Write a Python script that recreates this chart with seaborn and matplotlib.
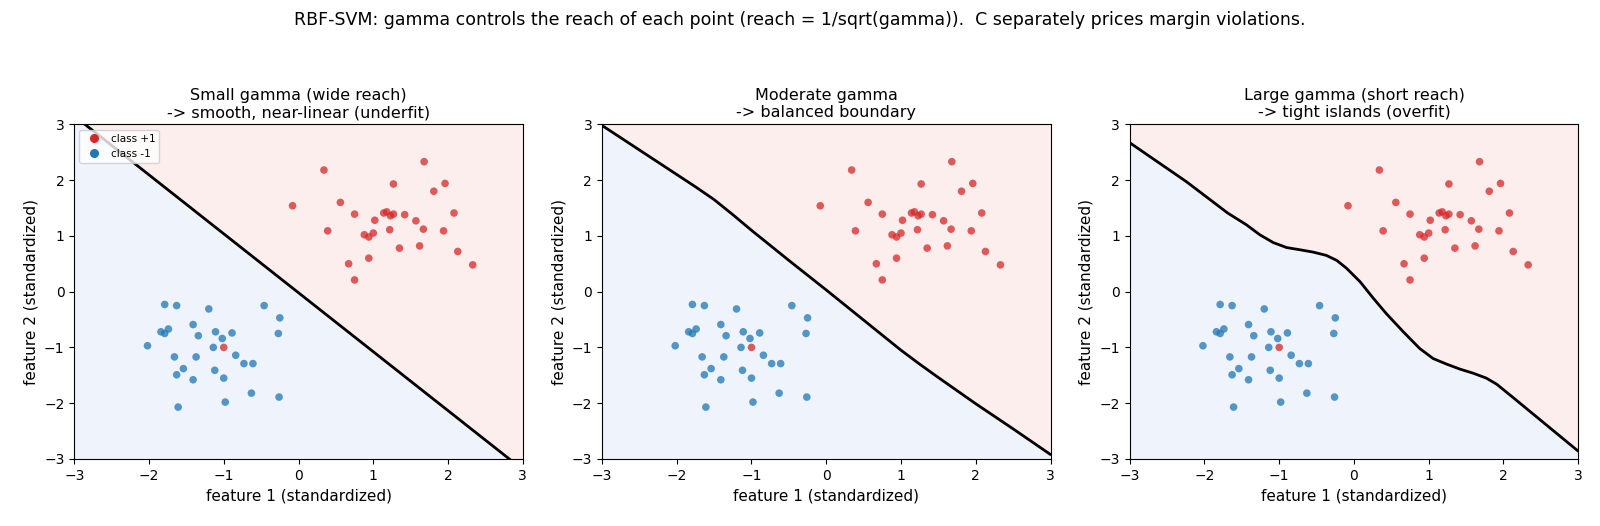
import numpy as np
import pandas as pd
import matplotlib
matplotlib.use("Agg")
import matplotlib.pyplot as plt
import seaborn as sns
from matplotlib.lines import Line2D

# ---- data ----
pos_x = [1.68, 0.34, 1.27, 1.96, 1.81, -0.08, 0.56, 0.75, 1.14, 1.18, 1.23, 1.27,
         1.42, 2.08, 1.02, 1.57, 0.39, 1.22, 1.67, 1.94, 0.88, 0.94, 1.00, 1.35,
         1.62, 2.13, 0.67, 0.94, 2.33, 0.75, -1.00]
pos_y = [2.33, 2.18, 1.93, 1.94, 1.80, 1.54, 1.60, 1.39, 1.41, 1.43, 1.36, 1.39,
         1.38, 1.41, 1.28, 1.27, 1.09, 1.11, 1.12, 1.09, 1.02, 0.98, 1.05, 0.78,
         0.82, 0.72, 0.50, 0.60, 0.48, 0.21, -1.00]
neg_x = [-1.79, -1.63, -1.20, -0.46, -0.25, -1.41, -1.84, -1.79, -1.74, -1.11,
         -0.89, -0.27, -1.34, -1.02, -2.02, -1.14, -1.66, -1.37, -0.84, -0.73,
         -0.61, -1.54, -1.12, -1.63, -1.41, -1.00, -0.63, -0.26, -0.98, -1.61]
neg_y = [-0.23, -0.25, -0.31, -0.25, -0.47, -0.59, -0.72, -0.75, -0.67, -0.72,
         -0.74, -0.75, -0.79, -0.84, -0.97, -1.00, -1.17, -1.17, -1.14, -1.29,
         -1.29, -1.38, -1.41, -1.49, -1.58, -1.55, -1.82, -1.89, -1.98, -2.07]

titles = ["Small gamma (wide reach)\n-> smooth, near-linear (underfit)",
          "Moderate gamma\n-> balanced boundary",
          "Large gamma (short reach)\n-> tight islands (overfit)"]

bnd1_x = [-3.0, 3.0]
bnd1_y = [3.15, -3.19]
bnd2_x = [-3.0, -2.5, -2.0, -1.75, -1.5, -1.25, -1.0, -0.5, 0.0, 0.5, 0.75, 1.0,
          1.25, 1.5, 2.0, 2.5, 3.0]
bnd2_y = [2.98, 2.54, 2.10, 1.88, 1.65, 1.38, 1.10, 0.56, 0.03, -0.51, -0.78, -1.05,
          -1.30, -1.54, -2.01, -2.46, -2.92]
bnd3_x = [-3.0, -2.24, -1.69, -1.44, -1.26, -1.08, -0.90, -0.72, -0.55, -0.37, -0.23,
          -0.10, 0.08, 0.26, 0.43, 0.66, 0.88, 1.06, 1.24, 1.42, 1.59, 1.77, 1.91,
          2.13, 3.0]
bnd3_y = [2.67, 1.97, 1.41, 1.20, 1.02, 0.88, 0.79, 0.75, 0.71, 0.65, 0.56,
          0.42, 0.18, -0.12, -0.39, -0.72, -1.02, -1.20, -1.30, -1.39, -1.46, -1.55, -1.66,
          -1.90, -2.86]
boundaries = [(bnd1_x, bnd1_y), (bnd2_x, bnd2_y), (bnd3_x, bnd3_y)]

suptitle = ("RBF-SVM: gamma controls the reach of each point (reach = 1/sqrt(gamma)).  "
            "C separately prices margin violations.")

RED = "#d62728"
BLUE = "#1f77b4"
PINK_BG = "#fdeeee"
BLUE_BG = "#eef3fc"

df = pd.DataFrame({
    "x": neg_x + pos_x,
    "y": neg_y + pos_y,
    "cls": ["class -1"] * len(neg_x) + ["class +1"] * len(pos_x),
})

fig, axes = plt.subplots(1, 3, figsize=(16, 5.26), dpi=100)
fig.subplots_adjust(left=0.0464, right=0.9864, top=0.7637, bottom=0.1274, wspace=0.1765)

for i, (ax, title, (bx, by)) in enumerate(zip(axes, titles, boundaries)):
    bx = np.asarray(bx); by = np.asarray(by)
    ax.fill_between(bx, by, 4, color=PINK_BG, lw=0, zorder=0)
    ax.fill_between(bx, -4, by, color=BLUE_BG, lw=0, zorder=0)
    ax.plot(bx, by, color="black", lw=2, zorder=2,
            solid_joinstyle="round", solid_capstyle="round")
    sns.scatterplot(data=df, x="x", y="y", hue="cls",
                    palette={"class +1": RED, "class -1": BLUE},
                    s=30, alpha=0.75, linewidth=0, legend=False, ax=ax, zorder=3)
    ax.set_xlim(-3, 3)
    ax.set_ylim(-3, 3)
    ax.set_xticks([-3, -2, -1, 0, 1, 2, 3])
    ax.set_yticks([-3, -2, -1, 0, 1, 2, 3])
    ax.tick_params(labelsize=10)
    ax.set_title(title, fontsize=11.5, pad=5)
    ax.set_xlabel("feature 1 (standardized)", fontsize=11)
    ax.set_ylabel("feature 2 (standardized)", fontsize=11)
    if i == 0:
        handles = [Line2D([], [], ls="", marker="o", color=RED, markersize=5.5, label="class +1"),
                   Line2D([], [], ls="", marker="o", color=BLUE, markersize=5.5, label="class -1")]
        ax.legend(handles=handles, loc="upper left", fontsize=7.5, handletextpad=0.6)

fig.suptitle(suptitle, fontsize=12.5)
fig.savefig("out.png", dpi=100)
